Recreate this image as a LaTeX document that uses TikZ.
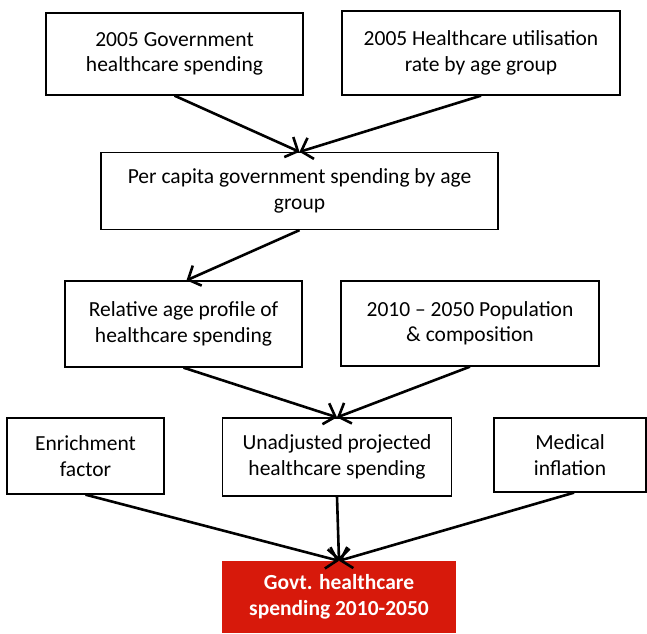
\documentclass[tikz,border=0pt]{standalone}
\usepackage{fontspec}
\setmainfont{Carlito}
\usetikzlibrary{arrows.meta}
\definecolor{boxred}{RGB}{215,25,11}
\tikzset{
  box/.style={draw=black, line width=1.3pt, fill=white, align=center, inner sep=0pt,
              font=\fontsize{21.5}{25.5}\selectfont},
  redbox/.style={fill=boxred, draw=none, align=center, inner sep=0pt, text=white,
              font=\fontsize{21.5}{25.5}\selectfont\bfseries},
  flow/.style={line width=2.6pt, -{Straight Barb[length=10pt,width=22pt]}}
}
\begin{document}
\begin{tikzpicture}[x=1pt,y=-1pt]
\useasboundingbox (0,0) rectangle (647,633);
\node[box, minimum width=257pt, minimum height=82pt] (b1) at (174.5,54) {2005 Government\\healthcare spending};
\node[box, minimum width=278pt, minimum height=84pt] (b2) at (481,53) {2005 Healthcare utilisation\\rate by age group};
\node[box, minimum width=397pt, minimum height=77pt] (b3) at (299.5,191) {Per capita government spending by age\\group};
\node[box, minimum width=237pt, minimum height=86pt] (b4) at (183.5,324) {Relative age profile of\\healthcare spending};
\node[box, minimum width=258pt, minimum height=85pt] (b5) at (470,323.5) {2010 -- 2050 Population\\\& composition};
\node[box, minimum width=157pt, minimum height=76pt] (b6) at (85.5,456) {Enrichment\\factor};
\node[box, minimum width=229.5pt, minimum height=78pt] (b7) at (337,457) {Unadjusted projected\\healthcare spending};
\node[box, minimum width=152pt, minimum height=74pt] (b8) at (570,455) {Medical\\inflation};
\node[redbox, minimum width=234pt, minimum height=72pt] (r) at (339,597) {Govt. healthcare\\spending 2010-2050};
\draw[flow] (b1.south) -- (b3.north);
\draw[flow] (b2.south) -- (b3.north);
\draw[flow] (b3.south) -- ([xshift=3pt]b4.north);
\draw[flow] (b4.south) -- (b7.north);
\draw[flow] (b5.south) -- (b7.north);
\draw[flow] (b6.south) -- (r.north);
\draw[flow] (b7.south) -- (r.north);
\draw[flow] ([xshift=4pt]b8.south) -- (r.north);
\end{tikzpicture}
\end{document}
